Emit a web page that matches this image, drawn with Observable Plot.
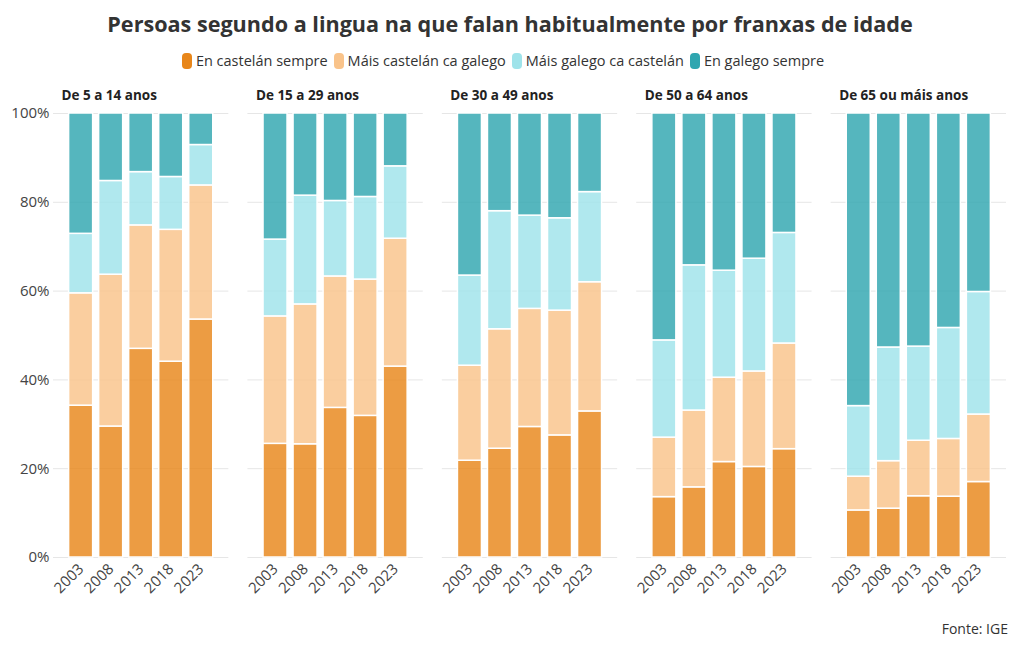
<!DOCTYPE html>
<html>
<head>
<meta charset="utf-8">
<script src="https://cdn.jsdelivr.net/npm/d3@7"></script>
<script src="https://cdn.jsdelivr.net/npm/@observablehq/plot@0.6"></script>
<style>
  body { margin: 0; background: #fff; font-family: "Open Sans", sans-serif; color: #333; }
  #wrap { width: 1020px; }
  h1 { margin: 0; padding-top: 9px; font-size: 21.6px; line-height: 30px; font-weight: 700; text-align: center; color: #333; }
  #legend { margin-top: 12px; padding-right: 14px; display: flex; justify-content: center; gap: 6px; font-size: 14.5px; line-height: 20px; color: #333; }
  #legend span.item { display: inline-flex; align-items: center; }
  #legend span.sw { display: inline-block; width: 10px; height: 16px; border-radius: 4px; margin-right: 4px; }
  #caption { text-align: right; padding-right: 12px; font-size: 14px; color: #333; margin-top: 0px; }
</style>
</head>
<body>
<div id="wrap">
  <h1 id="title"></h1>
  <div id="legend"></div>
  <div id="chart"></div>
  <div id="caption"></div>
</div>
<script>
const titulo = "Persoas segundo a lingua na que falan habitualmente por franxas de idade";
const fonte = "Fonte: IGE";
const grupos = ["De 5 a 14 anos", "De 15 a 29 anos", "De 30 a 49 anos", "De 50 a 64 anos", "De 65 ou máis anos"];
const anos = ["2003", "2008", "2013", "2018", "2023"];
const categorias = ["En castelán sempre", "Máis castelán ca galego", "Máis galego ca castelán", "En galego sempre"];
const cores = ["#E8861A", "#F9C38A", "#9FE3EA", "#2FA6B0"];
const yTicks = [0, 20, 40, 60, 80, 100];

// values per group (rows) and year (columns), in %
const enCastelanSempre = [
  [34.2, 29.5, 47.0, 44.1, 53.6],
  [25.6, 25.5, 33.7, 31.9, 43.0],
  [21.8, 24.5, 29.4, 27.5, 32.9],
  [13.6, 15.8, 21.5, 20.4, 24.4],
  [10.6, 11.0, 13.8, 13.7, 17.0]
];
const maisCastelan = [
  [25.3, 34.2, 27.8, 29.7, 30.2],
  [28.7, 31.5, 29.6, 30.7, 28.8],
  [21.4, 26.9, 26.6, 28.1, 29.1],
  [13.4, 17.3, 19.0, 21.5, 23.8],
  [7.6, 10.7, 12.5, 13.0, 15.2]
];
const maisGalego = [
  [13.4, 21.1, 12.0, 11.9, 9.1],
  [17.3, 24.5, 17.0, 18.6, 16.3],
  [20.3, 26.6, 21.0, 20.8, 20.3],
  [21.9, 32.7, 24.1, 25.4, 24.9],
  [15.9, 25.6, 21.2, 25.0, 27.6]
];
const enGalegoSempre = [
  [27.1, 15.2, 13.2, 14.3, 7.1],
  [28.4, 18.5, 19.7, 18.8, 11.9],
  [36.5, 22.0, 23.0, 23.6, 17.7],
  [51.1, 34.2, 35.4, 32.7, 26.9],
  [65.9, 52.7, 52.5, 48.3, 40.2]
];

const series = [enCastelanSempre, maisCastelan, maisGalego, enGalegoSempre];
const rows = [];
grupos.forEach((g, gi) => {
  anos.forEach((a, ai) => {
    categorias.forEach((c, ci) => {
      rows.push({grupo: g, ano: a, cat: c, valor: series[ci][gi][ai]});
    });
  });
});

document.getElementById("title").textContent = titulo;
document.getElementById("caption").textContent = fonte;
const leg = document.getElementById("legend");
categorias.forEach((c, i) => {
  const it = document.createElement("span");
  it.className = "item";
  it.innerHTML = `<span class="sw" style="background:${cores[i]}"></span>${c}`;
  leg.appendChild(it);
});

const chart = Plot.plot({
  width: 1020,
  height: 548,
  marginTop: 42,
  marginLeft: 53,
  marginRight: 14,
  marginBottom: 62,
  style: {fontFamily: "Open Sans, sans-serif", fontSize: "15px", color: "#444"},
  fx: {domain: grupos, paddingInner: 0.098, paddingOuter: 0, round: false, axis: null, label: null},
  x: {domain: anos, paddingInner: 0.2, paddingOuter: 0.52, round: false, label: null, tickRotate: -45, tickSize: 0, tickPadding: 9},
  y: {domain: [0, 100], ticks: yTicks, tickFormat: d => d + "%", label: null, tickSize: 0, tickPadding: 4},
  color: {domain: categorias, range: cores},
  marks: [
    Plot.gridY(yTicks, {stroke: "#e6e6e6", strokeOpacity: 1}),
    Plot.barY(rows, {fx: "grupo", x: "ano", y: "valor", fill: "cat", fillOpacity: 0.82, stroke: "white", strokeWidth: 1.5}),
    Plot.text(grupos, {fx: d => d, text: d => d, frameAnchor: "top-left", lineAnchor: "middle", dy: -18, dx: 8, fontWeight: 700, fontSize: 13.5, fill: "#222"})
  ]
});
document.getElementById("chart").appendChild(chart);
</script>
</body>
</html>
